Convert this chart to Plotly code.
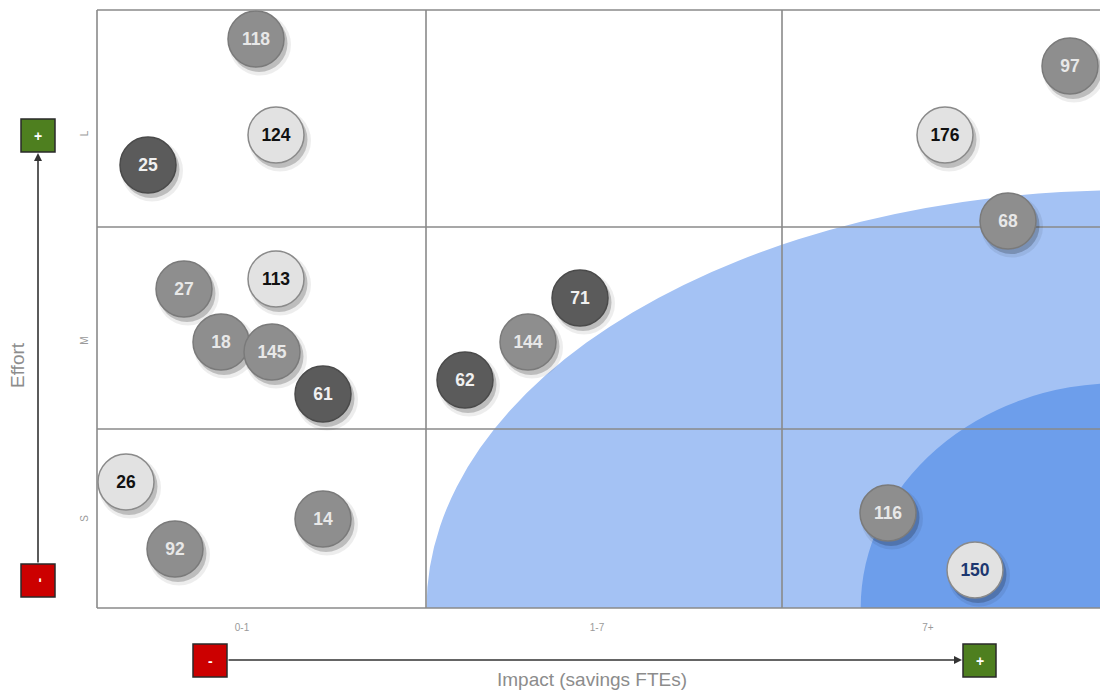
import plotly.graph_objects as go

# ---------------- data ----------------
labels = ["118", "124", "25", "97", "176", "68", "27", "113", "18", "145",
          "61", "71", "144", "62", "26", "92", "14", "116", "150"]
impact = [1.59, 1.79, 0.51, 9.73, 8.48, 9.11, 0.87, 1.79, 1.24, 1.75,
          2.26, 4.83, 4.31, 3.68, 0.29, 0.78, 2.26, 7.91, 8.78]
effort = [5.69, 4.73, 4.43, 5.42, 4.73, 3.87, 3.19, 3.29, 2.66, 2.56,
          2.14, 3.10, 2.66, 2.28, 1.26, 0.59, 0.89, 0.95, 0.38]
kind = ["mid", "light", "dark", "mid", "light", "mid", "mid", "light", "mid", "mid",
        "dark", "dark", "mid", "dark", "light", "mid", "mid", "mid", "light_blue"]

x_ticks = [1.45, 5.00, 8.31]
x_ticktext = ["0-1", "1-7", "7+"]
y_ticks = [0.88, 2.66, 4.73]
y_ticktext = ["S", "M", "L"]

x_bounds = [3.29, 6.85]          # column boundaries
y_bounds = [1.79, 3.81]          # row boundaries
x_range = [0, 10.03]
y_range = [0, 5.98]

# zones (centre x, centre y, radius x, radius y)
zone_outer = (10.33, 0.0, 7.035, 4.18)
zone_inner = (10.23, 0.0, 2.593, 2.25)

# ---------------- styles ----------------
FONT = "Liberation Sans, Arial, Helvetica"
fill = {"dark": "#5b5b5b", "mid": "#8e8e8e", "light": "#e2e2e2", "light_blue": "#e2e2e2"}
edge = {"dark": "#4a4a4a", "mid": "#7a7a7a", "light": "#8a8a8a", "light_blue": "#8a8a8a"}
tcol = {"dark": "#f0f0f0", "mid": "#e8e8e8", "light": "#111111", "light_blue": "#1c3770"}

fig = go.Figure()

# shadows
fig.add_trace(go.Scatter(
    x=[v + 0.04 for v in impact], y=[v - 0.055 for v in effort], mode="markers",
    marker=dict(size=62, color="rgba(0,0,0,0.07)", line=dict(width=0)),
    hoverinfo="skip", showlegend=False))
fig.add_trace(go.Scatter(
    x=[v + 0.03 for v in impact], y=[v - 0.045 for v in effort], mode="markers",
    marker=dict(size=57, color="rgba(0,0,0,0.2)", line=dict(width=0)),
    hoverinfo="skip", showlegend=False))

# bubbles
fig.add_trace(go.Scatter(
    x=impact, y=effort, mode="markers",
    marker=dict(size=56, color=[fill[k] for k in kind],
                line=dict(width=1.5, color=[edge[k] for k in kind]), opacity=1),
    text=labels, hoverinfo="text", showlegend=False))
# labels (nudged slightly down to sit optically centred)
fig.add_trace(go.Scatter(
    x=impact, y=[v - 0.02 for v in effort], mode="text",
    text=["<b>%s</b>" % t for t in labels],
    textposition="middle center",
    textfont=dict(family=FONT, size=17.5, color=[tcol[k] for k in kind]),
    hoverinfo="skip", showlegend=False))

shapes = []
# zones
for (cx, cy, rx, ry), col in [(zone_outer, "#a4c2f4"), (zone_inner, "#6d9eeb")]:
    shapes.append(dict(type="circle", xref="x", yref="y", x0=cx - rx, x1=cx + rx,
                       y0=cy - ry, y1=cy + ry, fillcolor=col, line=dict(width=0),
                       layer="below"))
# grid
gl = dict(color="#8a8a8a", width=1.6)
for xb in x_bounds:
    shapes.append(dict(type="line", xref="x", yref="y", x0=xb, x1=xb,
                       y0=y_range[0], y1=y_range[1], line=gl, layer="below"))
for yb in y_bounds:
    shapes.append(dict(type="line", xref="x", yref="y", x0=x_range[0], x1=x_range[1],
                       y0=yb, y1=yb, line=gl, layer="below"))
# border (top, left, bottom)
shapes.append(dict(type="line", xref="paper", yref="paper", x0=0, x1=1, y0=1, y1=1, line=gl))
shapes.append(dict(type="line", xref="paper", yref="paper", x0=0, x1=1, y0=0, y1=0, line=gl))
shapes.append(dict(type="line", xref="paper", yref="paper", x0=0, x1=0, y0=0, y1=1, line=gl))

# indicator boxes (pixel -> paper)
W, H, L, T = 1003.0, 598.0, 97.0, 10.0
def px(xp): return (xp - L) / W
def py(yp): return (T + H - yp) / H

boxes = [((21, 55, 564, 597), "#cc0000", "-", -90),
         ((21, 55, 119, 152), "#4e7f1f", "+", 0),
         ((193, 227, 644, 677), "#cc0000", "-", 0),
         ((963, 996, 644, 677), "#4e7f1f", "+", 0)]
annotations = []
for (x0, x1, y0, y1), col, sign, ang in boxes:
    shapes.append(dict(type="rect", xref="paper", yref="paper", x0=px(x0), x1=px(x1),
                       y0=py(y1), y1=py(y0), fillcolor=col,
                       line=dict(color="#2a2a2a", width=1.5)))
    annotations.append(dict(xref="paper", yref="paper", x=px((x0 + x1) / 2),
                            y=py((y0 + y1) / 2), xanchor="center", yanchor="middle",
                            text="<b>%s</b>" % sign, showarrow=False,
                            textangle=ang, font=dict(color="white", size=14, family=FONT)))

# arrows
annotations.append(dict(xref="paper", yref="paper", x=px(38), y=py(153), ax=0, ay=411,
                        text="", showarrow=True, arrowhead=2, arrowsize=1,
                        arrowwidth=1.6, arrowcolor="#333333"))
annotations.append(dict(xref="paper", yref="paper", x=px(962), y=py(660), ax=-735, ay=0,
                        text="", showarrow=True, arrowhead=2, arrowsize=1,
                        arrowwidth=1.6, arrowcolor="#333333"))

# axis titles
annotations.append(dict(xref="paper", yref="paper", x=px(592), y=py(679),
                        xanchor="center", yanchor="middle",
                        text="Impact (savings FTEs)", showarrow=False,
                        font=dict(size=19, color="#8c8c8c", family=FONT)))
annotations.append(dict(xref="paper", yref="paper", x=px(18), y=py(365),
                        xanchor="center", yanchor="middle",
                        text="Effort", showarrow=False, textangle=-90,
                        font=dict(size=19, color="#8c8c8c", family=FONT)))

fig.update_layout(
    width=1100, height=691, autosize=False,
    margin=dict(l=97, r=0, t=10, b=83, pad=0),
    paper_bgcolor="white", plot_bgcolor="white",
    shapes=shapes, annotations=annotations, showlegend=False,
    xaxis=dict(range=x_range, showgrid=False, zeroline=False, showline=False,
               tickvals=x_ticks, ticktext=x_ticktext, ticks="outside", ticklen=10,
               tickcolor="rgba(0,0,0,0)",
               tickfont=dict(size=10, color="#9a9a9a", family=FONT)),
    yaxis=dict(range=y_range, showgrid=False, zeroline=False, showline=False,
               tickvals=y_ticks, ticktext=y_ticktext, ticks="outside", ticklen=4,
               tickcolor="rgba(0,0,0,0)", tickangle=-90,
               tickfont=dict(size=10, color="#9a9a9a", family=FONT)),
)

fig.write_html("out.html")
